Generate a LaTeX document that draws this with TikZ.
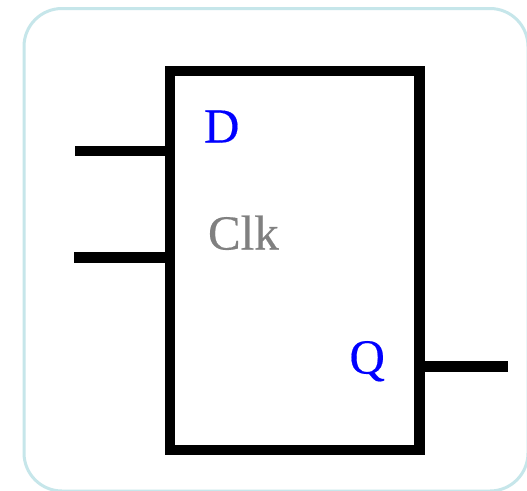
\documentclass[tikz,border=0pt]{standalone}
\usepackage{fontspec}
\setmainfont[FakeBold=0.35]{Liberation Serif}
\definecolor{panelline}{HTML}{C6E6EA}
\definecolor{clkgray}{HTML}{808080}
\tikzset{
  wire/.style={line width=10.5pt,black,line cap=butt},
  chip/.style={draw=black,line width=10.5pt,fill=white,rectangle,minimum width=249.5pt,minimum height=379pt,inner sep=0pt,outer sep=0pt,miter limit=10},
  pinlabel/.style={font=\fontsize{49}{49}\selectfont,inner sep=0pt,outer sep=0pt,anchor=base west},
  panel/.style={draw=panelline,line width=3pt,fill=white,rounded corners=38pt}
}
\begin{document}
\begin{tikzpicture}[x=1pt,y=-1pt]
\useasboundingbox (0,0) rectangle (527,490);
\fill[white] (0,0) rectangle (527,490);
\draw[panel] (24,8.5) rectangle (528,491);
\node[chip] (box) at (294.5,260.25) {};
\coordinate (d) at (75,151);
\coordinate (clk) at (74,257.5);
\coordinate (q) at (508,366.5);
\draw[wire] (d) -- (d -| box.west);
\draw[wire] (clk) -- (clk -| box.west);
\draw[wire] (q -| box.east) -- (q);
\node[pinlabel,text=blue] (dl) at (204,142.5) {D};
\node[pinlabel,text=clkgray] (cl) at (208,249.5) {Clk};
\node[pinlabel,text=blue] (ql) at (349.5,373.5) {Q};
\end{tikzpicture}
\end{document}
